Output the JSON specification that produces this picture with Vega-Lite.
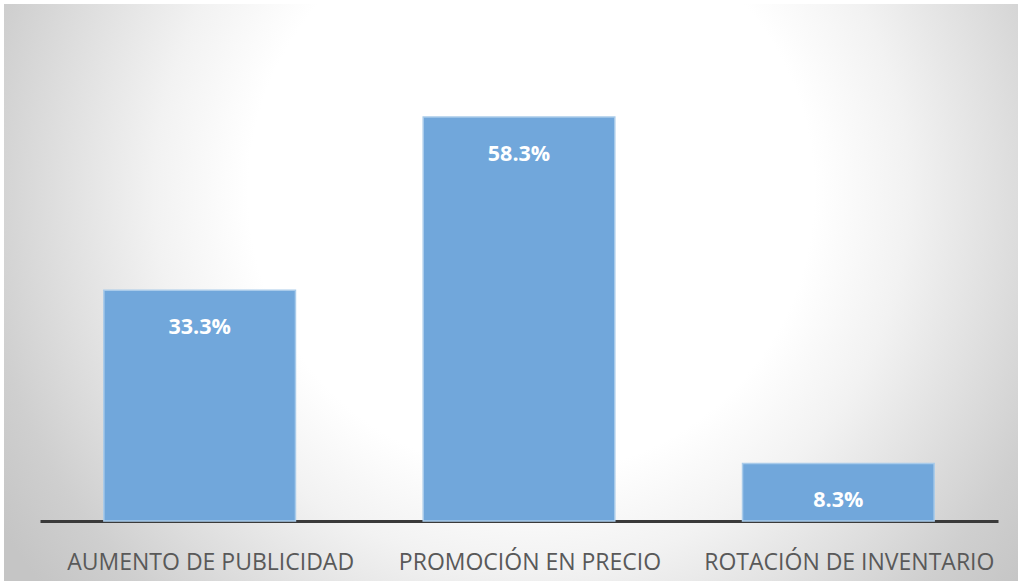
{
  "$schema": "https://vega.github.io/schema/vega-lite/v6.json",
  "width": 1018,
  "height": 581,
  "autosize": {"type": "fit", "contains": "padding"},
  "padding": {"left": 4, "top": 4, "right": 0, "bottom": 0},
  "background": "white",
  "config": {
    "view": {
      "stroke": null,
      "fill": {
        "gradient": "radial",
        "x1": 0.52, "y1": 0.4, "r1": 0,
        "x2": 0.52, "y2": 0.4, "r2": 0.62,
        "stops": [
          {"offset": 0, "color": "#ffffff"},
          {"offset": 0.45, "color": "#ffffff"},
          {"offset": 0.6, "color": "#f2f2f2"},
          {"offset": 0.88, "color": "#cfcfcf"},
          {"offset": 1, "color": "#c5c5c5"}
        ]
      }
    }
  },
  "data": {
    "values": [
      {"category": "AUMENTO DE PUBLICIDAD", "value": 33.3, "label": "33.3%"},
      {"category": "PROMOCIÓN EN PRECIO", "value": 58.3, "label": "58.3%"},
      {"category": "ROTACIÓN DE INVENTARIO", "value": 8.3, "label": "8.3%"}
    ]
  },
  "encoding": {
    "x": {
      "field": "category",
      "type": "nominal",
      "sort": null,
      "scale": {"range": [36, 994], "paddingInner": 0.4, "paddingOuter": 0.2},
      "axis": {
        "title": null,
        "offset": -60,
        "domainColor": "#3a3a3a",
        "domainWidth": 3,
        "ticks": false,
        "labelAngle": 0,
        "labelFont": "Open Sans",
        "labelFontSize": 23,
        "labelColor": "#595959",
        "labelPadding": 30,
        "labelOffset": 11,
        "labelLimit": 0,
        "labelOverlap": false
      }
    },
    "y": {
      "field": "value",
      "type": "quantitative",
      "scale": {"domain": [-8.66, 74.6], "nice": false, "zero": false},
      "axis": null
    }
  },
  "layer": [
    {
      "mark": {"type": "bar", "color": "#71a7db", "stroke": "#a9cbea", "strokeWidth": 1.5},
      "encoding": {"y2": {"datum": 0}}
    },
    {
      "mark": {
        "type": "text",
        "baseline": "middle",
        "dy": 38,
        "color": "white",
        "font": "Open Sans",
        "fontWeight": "bold",
        "fontSize": 21.5
      },
      "encoding": {"text": {"field": "label"}}
    }
  ]
}
